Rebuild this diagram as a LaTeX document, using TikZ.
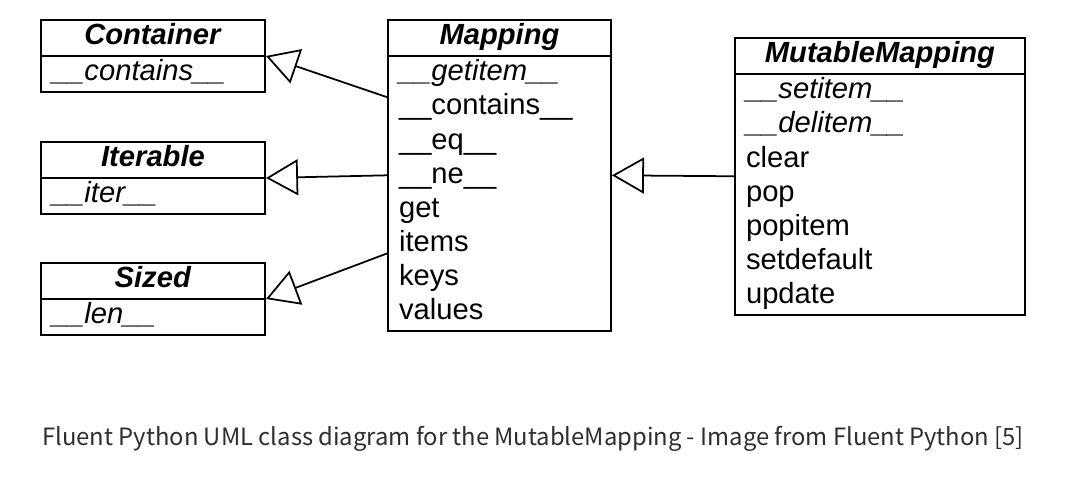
\documentclass[tikz,border=0pt]{standalone}
\usepackage{fontspec}
\setmainfont{Liberation Sans}
\newfontfamily\capfont{Noto Sans CJK KR}
\usetikzlibrary{calc}
\usetikzlibrary{shapes.multipart}
\usetikzlibrary{arrows.meta}

\definecolor{capgray}{HTML}{2E2E2E}

\newcommand{\cls}[1]{\makebox[\linewidth]{\strut\textbf{\textit{#1}}}}
\newcommand{\ab}[1]{\strut\textit{#1}}
\newcommand{\mt}[1]{\strut#1}

\tikzset{
  umlclass/.style={rectangle split, rectangle split parts=2, draw, line width=1.1pt,
    text width=#1, inner xsep=6.3pt, inner ysep=0pt, align=left, anchor=north west,
    font=\fontsize{16.6}{19.4}\selectfont},
  inherit/.style={line width=1pt, -{Triangle[open, length=0.64cm, width=0.72cm]}}
}

\begin{document}
\begin{tikzpicture}
				\useasboundingbox (0,0) rectangle (21.8,-9.64);
				
				\node[umlclass=114.9pt] (C) at (0.8,-0.38) {\cls{Container}\nodepart{two}\ab{\_\_contains\_\_}};
				\node[umlclass=114.9pt] (It) at (0.8,-2.82) {\cls{Iterable}\nodepart{two}\ab{\_\_iter\_\_}};
				\node[umlclass=114.9pt] (Sz) at (0.8,-5.24) {\cls{Sized}\nodepart{two}\ab{\_\_len\_\_}};
				
				\node[umlclass=114.3pt] (M) at (7.74,-0.38) {\cls{Mapping}\nodepart{two}
					\ab{\_\_getitem\_\_}\\ \mt{\_\_contains\_\_}\\ \mt{\_\_eq\_\_}\\ \mt{\_\_ne\_\_}\\
					\mt{get}\\ \mt{items}\\ \mt{keys}\\ \mt{values}};
				
				\node[umlclass=152.4pt] (MM) at (14.68,-0.74) {\cls{MutableMapping}\nodepart{two}
					\ab{\_\_setitem\_\_}\\ \ab{\_\_delitem\_\_}\\ \mt{clear}\\ \mt{pop}\\
					\mt{popitem}\\ \mt{setdefault}\\ \mt{update}};
				
				\coordinate (Mc) at ($(M.north west)!0.25!(M.south west)$);
				\coordinate (Mi) at ($(M.north west)!0.5!(M.south west)$);
				\coordinate (Ms) at ($(M.north west)!0.75!(M.south west)$);
				
				\draw[inherit] (Mc) -- (C.text split east);
				\draw[inherit] (Mi) -- (It.text split east);
				\draw[inherit] (Ms) -- (Sz.text split east);
				\draw[inherit] (MM.west) -- (M.east);
				
				\node[anchor=base west, inner sep=0, text=capgray, font=\capfont\fontsize{13.55}{16}\selectfont] (cap) at (0.84,-8.9) {Fluent Python UML class diagram for the MutableMapping - Image from Fluent Python [5]};
			\end{tikzpicture}
\end{document}
